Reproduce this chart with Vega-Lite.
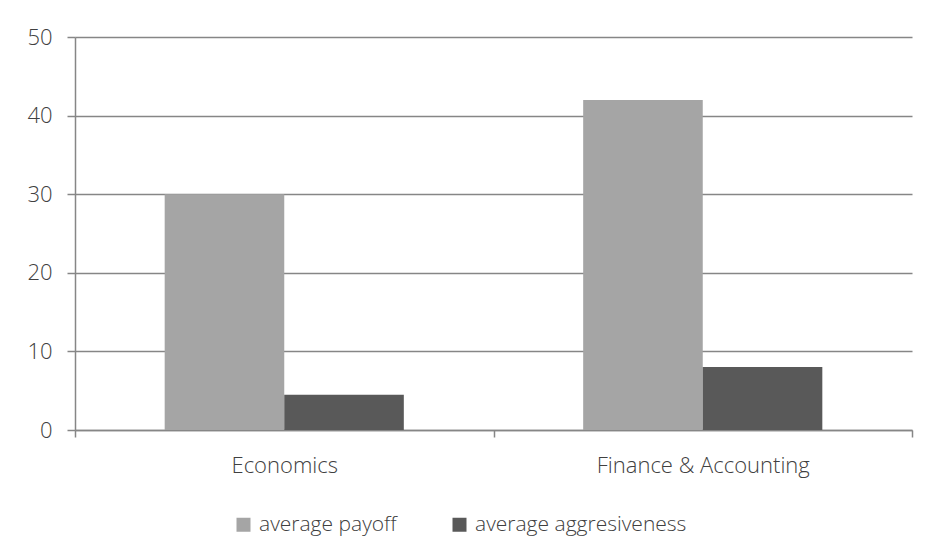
{
  "$schema": "https://vega.github.io/schema/vega-lite/v6.json",
  "width": 837,
  "height": 393,
  "autosize": {"type": "none"},
  "padding": {"left": 75, "top": 37, "right": 14, "bottom": 122},
  "background": "white",
  "config": {
    "view": {"stroke": null},
    "font": "Open Sans",
    "axis": {"labelFont": "Open Sans", "labelFontWeight": 300, "labelColor": "#404040", "labelFontSize": 22, "labelLimit": 0, "domainColor": "#868686", "tickColor": "#868686", "gridColor": "#868686", "domainWidth": 1.5, "tickWidth": 1.5, "gridWidth": 1.5},
    "legend": {"labelFont": "Open Sans", "labelFontWeight": 300, "labelColor": "#404040", "labelFontSize": 21, "labelLimit": 0, "padding": 0}
  },
  "data": {"values": [
    {"field": "Economics", "measure": "average payoff", "value": 30},
    {"field": "Economics", "measure": "average aggresiveness", "value": 4.5},
    {"field": "Finance & Accounting", "measure": "average payoff", "value": 42},
    {"field": "Finance & Accounting", "measure": "average aggresiveness", "value": 8}
  ]},
  "mark": {"type": "bar"},
  "encoding": {
    "x": {"field": "field", "type": "nominal", "title": null,
      "scale": {"paddingInner": 0, "paddingOuter": 0},
      "axis": {"labelAngle": 0, "tickBand": "extent", "tickSize": 7, "labelPadding": 18, "domain": true}},
    "xOffset": {"field": "measure", "type": "nominal", "sort": ["average payoff", "average aggresiveness"],
      "scale": {"paddingInner": 0, "paddingOuter": 0.75}},
    "y": {"field": "value", "type": "quantitative", "title": null,
      "scale": {"domain": [0, 50]},
      "axis": {"values": [0, 10, 20, 30, 40, 50], "tickSize": 8, "labelPadding": 15, "domain": true, "grid": true}},
    "color": {"field": "measure", "type": "nominal", "sort": ["average payoff", "average aggresiveness"],
      "scale": {"domain": ["average payoff", "average aggresiveness"], "range": ["#a5a5a5", "#595959"]},
      "legend": {"title": null, "orient": "none", "legendX": 158, "legendY": 477, "direction": "horizontal", "symbolType": "square", "symbolSize": 196, "symbolStrokeWidth": 0, "labelOffset": 5, "columnPadding": 52}}
  }
}
